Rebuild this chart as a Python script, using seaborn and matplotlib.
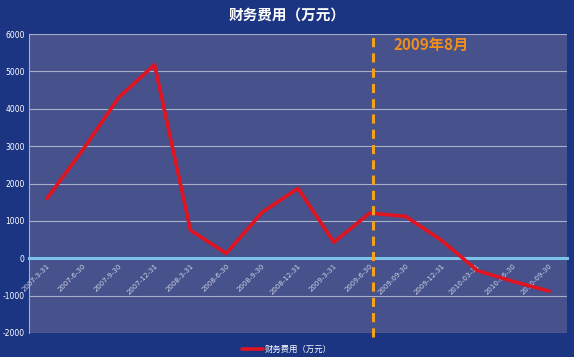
import matplotlib
matplotlib.use("Agg")
import matplotlib.pyplot as plt
import seaborn as sns
import pandas as pd

dates = ["2007-3-31", "2007-6-30", "2007-9-30", "2007-12-31", "2008-3-31",
         "2008-6-30", "2008-9-30", "2008-12-31", "2009-3-31", "2009-6-30",
         "2009-09-30", "2009-12-31", "2010-03-31", "2010-06-30", "2010-09-30"]
values = [1600, 2900, 4300, 5180, 750, 130, 1230, 1870, 430, 1210,
          1120, 480, -330, -620, -880]
series_name = "财务费用（万元）"
marker_label = "2009年8月"
marker_pos = 9.1
yticks = [-2000, -1000, 0, 1000, 2000, 3000, 4000, 5000, 6000]

sns.set_theme(style="white")
plt.rcParams['font.family'] = ['Noto Sans CJK SC', 'DejaVu Sans']
plt.rcParams['axes.unicode_minus'] = False

fig_bg = "#1c3582"
ax_bg = "#47518b"

fig = plt.figure(figsize=(5.74, 3.57), dpi=100, facecolor=fig_bg)
ax = fig.add_axes([29/574, 1-333/357, (567-29)/574, (333-34)/357])
ax.set_facecolor(ax_bg)

df = pd.DataFrame({"x": range(len(dates)), "value": values})
sns.lineplot(data=df, x="x", y="value", ax=ax, color="#e01420", linewidth=2.6,
             label=series_name, legend=False, zorder=4)

ax.set_xlim(-0.5, len(dates) - 0.5)
ax.set_ylim(-2000, 6000)
ax.set_yticks(yticks)
ax.set_yticklabels([str(v) for v in yticks], color="white", fontsize=5.5,
                   family=['DejaVu Sans'])
ax.yaxis.grid(True, color="#a9aecb", linewidth=0.8)
ax.set_axisbelow(True)
ax.tick_params(axis='y', length=0, pad=3)

ax.spines['bottom'].set_position(('data', 0))
ax.spines['bottom'].set_color("#7cc3ea")
ax.spines['bottom'].set_linewidth(2.2)
ax.spines['bottom'].set_zorder(3)
for s in ['top', 'right']:
    ax.spines[s].set_visible(False)
ax.spines['left'].set_color("#a9aecb")
ax.spines['left'].set_linewidth(0.8)

ax.set_xticks(range(len(dates)))
ax.set_xticklabels(dates, rotation=45, ha='right', rotation_mode='anchor',
                   color="#cfd3e6", fontsize=5, family=['DejaVu Sans'])
ax.tick_params(axis='x', length=0, pad=3)
ax.set_xlabel("")
ax.set_ylabel("")

ax.axvline(marker_pos, ymin=-0.012, ymax=1.0, color="#f4a21c", linestyle=(0, (3, 2)),
           linewidth=2.2, clip_on=False, zorder=5)
ax.text(marker_pos + 0.55, 5700, marker_label, color="#f08e1c", fontsize=11,
        fontweight='bold', va='center', ha='left')

fig.text(0.5, 1 - 15/357, "财务费用（万元）", color="white", fontsize=10.5,
         fontweight='bold', ha='center', va='center')

handles, labels = ax.get_legend_handles_labels()
leg = fig.legend(handles, labels, loc='center', bbox_to_anchor=(0.5, 1-349/357),
                 frameon=False, fontsize=6, handlelength=2.5, handletextpad=0.3)
for t in leg.get_texts():
    t.set_color("white")

fig.savefig("out.png", dpi=100, facecolor=fig_bg)
